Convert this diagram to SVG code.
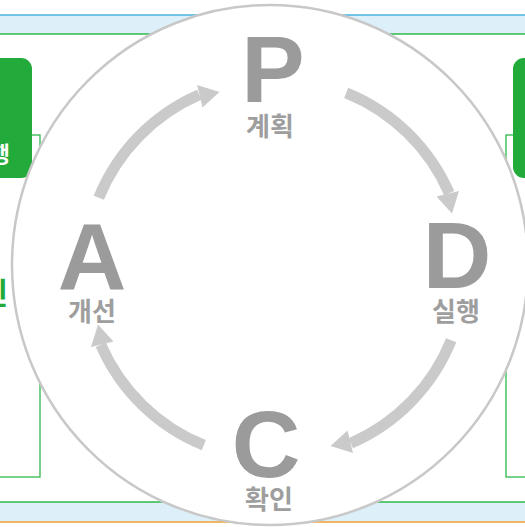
<svg xmlns="http://www.w3.org/2000/svg" width="525" height="527" viewBox="0 0 525 527">
<style>
.big{font-family:"Liberation Sans",Arial,sans-serif;font-weight:bold;font-size:95px;fill:#9a9b9a;text-anchor:middle}
.lbl{font-family:"Noto Sans CJK KR","Noto Sans",sans-serif;font-weight:bold;font-size:26px;fill:#9e9e9e;text-anchor:middle}
.box{fill:#22aa3a}
.thin{fill:none;stroke:#2fb84a;stroke-width:1.3}
.shaft{fill:none;stroke:#c9cac9;stroke-width:11}
.head{fill:#c9cac9}
</style>
<defs>
<g id="arr">
<path class="shaft" d="M 98.8 197.8 A 190 190 0 0 1 199.2 94.8"/>
<polygon class="head" points="197,85 219.5,92 202.5,107.5"/>
</g>
</defs>
<g id="bands">
<rect x="0" y="15" width="525" height="19" fill="#ddf0fa"/>
<line x1="0" y1="15" x2="525" y2="15" stroke="#4ab2df" stroke-width="1.5"/>
<line x1="0" y1="34" x2="525" y2="34" stroke="#2fb84a" stroke-width="1.5"/>
<rect x="0" y="502" width="525" height="20" fill="#ddf0fa"/>
<line x1="0" y1="502" x2="525" y2="502" stroke="#2fb84a" stroke-width="1.5"/>
<line x1="0" y1="522" x2="525" y2="522" stroke="#f0a030" stroke-width="1.5"/>
</g>
<g id="left-panel">
<rect class="thin" x="-10" y="135" width="50" height="342"/>
<rect class="box" x="-20" y="58" width="52" height="120" rx="11"/>
<text x="10" y="162" font-family="Noto Sans CJK KR,sans-serif" font-weight="bold" font-size="22" fill="#ffffff" text-anchor="end">행</text>
<text x="8" y="304" font-family="Noto Sans CJK KR,sans-serif" font-weight="bold" font-size="30" fill="#22aa3a" text-anchor="end">인</text>
</g>
<g id="right-panel">
<rect class="thin" x="506" y="135" width="40" height="342"/>
<rect class="box" x="513" y="58" width="40" height="120" rx="11"/>
</g>
<ellipse id="ring" cx="270" cy="265" rx="258" ry="260" fill="#ffffff" stroke="#c8c8c8" stroke-width="2.5"/>
<g id="connectors">
<use href="#arr"/>
<use href="#arr" transform="rotate(90 275 269)"/>
<use href="#arr" transform="rotate(180 275 269)"/>
<use href="#arr" transform="rotate(270 275 269)"/>
</g>
<g id="node-P">
<text class="big" x="273" y="101.7">P</text>
<text class="lbl" x="270" y="136">계획</text>
</g>
<g id="node-D">
<text class="big" x="457" y="288">D</text>
<text class="lbl" x="456" y="321">실행</text>
</g>
<g id="node-C">
<text class="big" x="266" y="477">C</text>
<text class="lbl" x="269" y="509">확인</text>
</g>
<g id="node-A">
<text class="big" x="92" y="290">A</text>
<text class="lbl" x="92" y="321">개선</text>
</g>
</svg>
